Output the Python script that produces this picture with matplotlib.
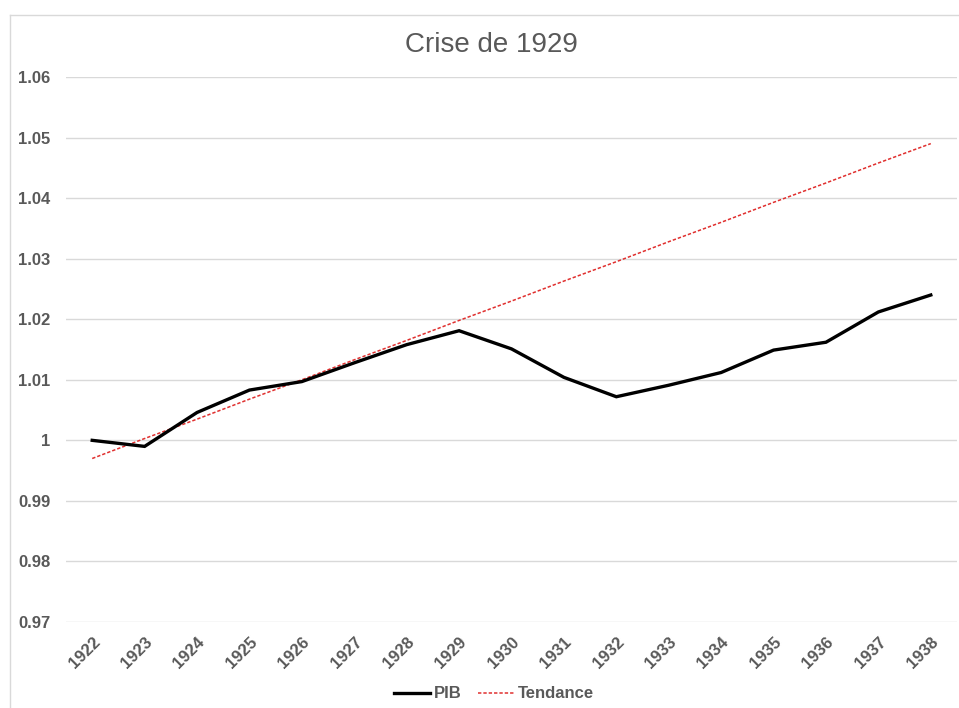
import matplotlib.pyplot as plt
from matplotlib.lines import Line2D

# data
years = ["1922", "1923", "1924", "1925", "1926", "1927", "1928", "1929", "1930",
         "1931", "1932", "1933", "1934", "1935", "1936", "1937", "1938"]
pib = [1.0000, 0.9990, 1.0046, 1.0083, 1.0097, 1.0128, 1.0158, 1.0181, 1.0151,
       1.0104, 1.0072, 1.0091, 1.0112, 1.0149, 1.0162, 1.0212, 1.0240]
tendance = [0.9970, 1.0003, 1.0035, 1.0068, 1.0100, 1.0133, 1.0165, 1.0198, 1.0230,
            1.0263, 1.0295, 1.0328, 1.0360, 1.0393, 1.0425, 1.0458, 1.0490]
yticks = [0.97, 0.98, 0.99, 1.00, 1.01, 1.02, 1.03, 1.04, 1.05, 1.06]
ytick_labels = ["0.97", "0.98", "0.99", "1", "1.01", "1.02", "1.03", "1.04", "1.05", "1.06"]

plt.rcParams['font.family'] = ['Liberation Sans', 'DejaVu Sans']
grey = "#595959"

fig = plt.figure(figsize=(9.59, 7.08), dpi=100)
ax = fig.add_axes([66 / 959, 1 - 622 / 708, (957 - 66) / 959, (622 - 77) / 708])

x = list(range(len(years)))
ax.plot(x, tendance, color="#E0302F", linewidth=1.1, linestyle=(0, (2.2, 1.3)), label="Tendance", zorder=3)
ax.plot(x, pib, color="black", linewidth=2.4, label="PIB", zorder=4, solid_joinstyle="miter")

ax.set_xlim(-0.5, len(years) - 0.5)
ax.set_ylim(0.97, 1.06)
ax.set_yticks(yticks)
ax.set_yticklabels(ytick_labels, fontsize=12, fontweight="bold", color=grey)
ax.set_xticks(x)
ax.set_xticklabels(years, fontsize=12, fontweight="bold", color=grey,
                   rotation=45, ha="right", va="top", rotation_mode="anchor")
ax.tick_params(axis="both", length=0)
ax.tick_params(axis="y", pad=11)
ax.tick_params(axis="x", pad=9)
ax.grid(axis="y", color="#D9D9D9", linewidth=1)
ax.set_axisbelow(True)
for s in ax.spines.values():
    s.set_visible(False)

fig.text(491 / 959, 1 - 45 / 708, "Crise de 1929", fontsize=20, color=grey, ha="center", va="center")

handles = [Line2D([], [], color="black", linewidth=2.4),
           Line2D([], [], color="#E0302F", linewidth=1.1, linestyle=(0, (2.2, 1.3)))]
fig.legend(handles, ["PIB", "Tendance"], loc="center", bbox_to_anchor=(494 / 959, 1 - 694 / 708),
           ncol=2, frameon=False, handlelength=2.2, handletextpad=0.2, columnspacing=1.0,
           prop={"size": 12, "weight": "bold"}, labelcolor=grey)

# light frame of the chart area
fig.add_artist(Line2D([10 / 959, 10 / 959], [0, 1 - 15 / 708], color="#D9D9D9", linewidth=1, transform=fig.transFigure))
fig.add_artist(Line2D([10 / 959, 1], [1 - 15 / 708, 1 - 15 / 708], color="#D9D9D9", linewidth=1, transform=fig.transFigure))

fig.savefig("out.png", dpi=100)
